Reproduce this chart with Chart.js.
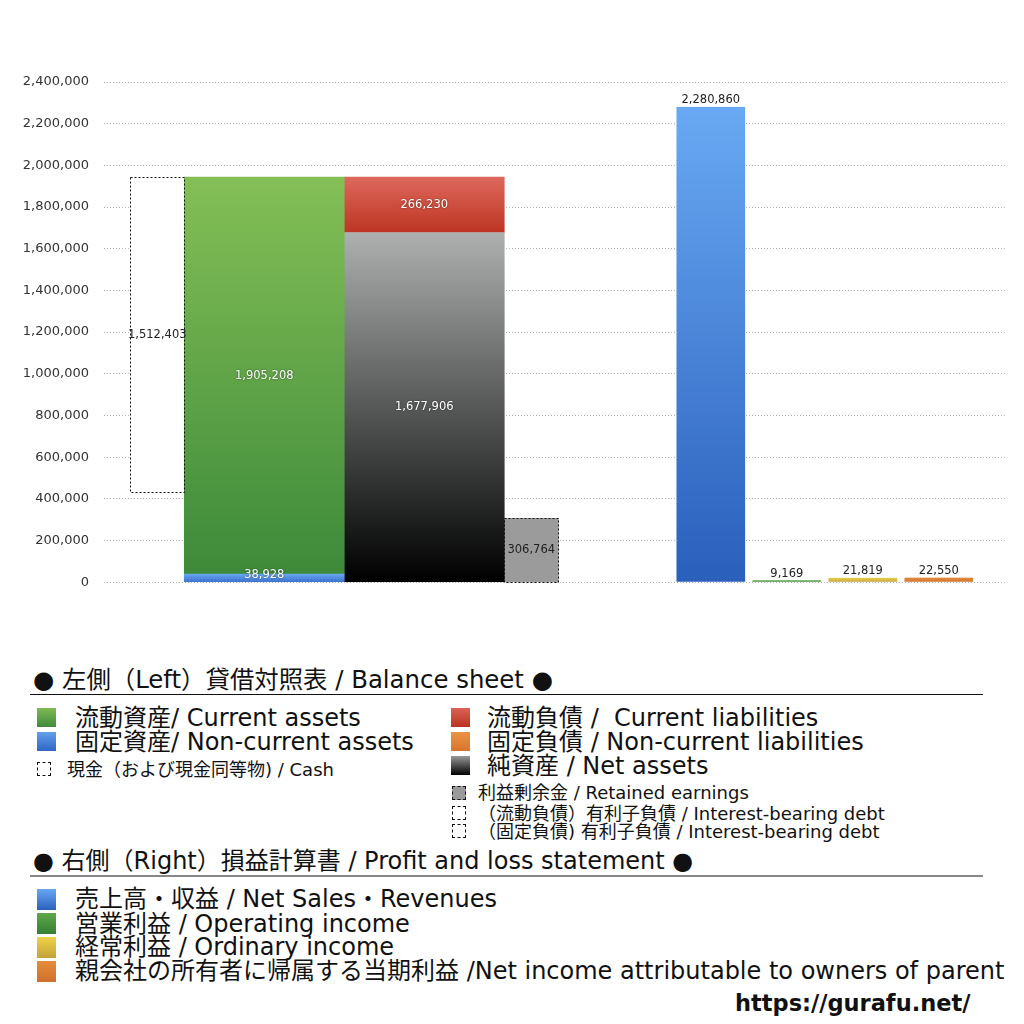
<!DOCTYPE html>
<html lang="ja">
<head>
<meta charset="utf-8">
<script src="https://cdn.jsdelivr.net/npm/chart.js"></script>
<style>
  body { margin: 0; width: 1024px; height: 1024px; background: #fff; position: relative; overflow: hidden;
         font-family: "DejaVu Sans", "Noto Sans CJK JP", sans-serif; color: #111; }
  #chartBox { position: absolute; left: 0; top: 0; width: 1024px; height: 605px; }
  .head { position: absolute; left: 33px; font-size: 24.4px; line-height: 24px; white-space: nowrap; }
  .rule { position: absolute; left: 30px; width: 953px; }
  .big  { position: absolute; font-size: 24px; line-height: 24px; white-space: nowrap; }
  .small{ position: absolute; font-size: 18px; line-height: 18px; white-space: nowrap; }
  .pl   { position: absolute; left: 75px; font-size: 24px; line-height: 24px; white-space: nowrap; }
  .sw   { position: absolute; width: 19px; height: 19px; }
  .dash { position: absolute; width: 12px; height: 12px; border: 1px dashed #111; }
  .url  { position: absolute; left: 735px; top: 991px; font-weight: bold; font-size: 22.5px; line-height: 24px; }
</style>
</head>
<body>
<div id="chartBox"><canvas id="bsChart"></canvas></div>

<div class="head" style="top:668px">● 左側（Left）貸借対照表 / Balance sheet ●</div>
<div class="rule" style="top:694px;height:1px;background:#111"></div>

<span class="sw" style="left:37px;top:708px;background:linear-gradient(#7fbb54,#3f8a3b)"></span>
<div class="big" style="left:75px;top:706px">流動資産/ Current assets</div>
<span class="sw" style="left:37px;top:732px;background:linear-gradient(#62a0ec,#2f66c4)"></span>
<div class="big" style="left:75px;top:730px">固定資産/ Non-current assets</div>
<span class="dash" style="left:37px;top:762px"></span>
<div class="small" style="left:67px;top:761px">現金（および現金同等物) / Cash</div>

<span class="sw" style="left:451px;top:708px;background:linear-gradient(#dc6257,#b93320)"></span>
<div class="big" style="left:487px;top:706px">流動負債 /&nbsp; Current liabilities</div>
<span class="sw" style="left:451px;top:732px;background:linear-gradient(#ec9344,#d8742c)"></span>
<div class="big" style="left:487px;top:730px">固定負債 / Non-current liabilities</div>
<span class="sw" style="left:451px;top:756px;background:linear-gradient(#9a9a9a,#000)"></span>
<div class="big" style="left:487px;top:754px">純資産 / Net assets</div>
<span class="dash" style="left:452px;top:786px;background:#999"></span>
<div class="small" style="left:478px;top:784px">利益剰余金 / Retained earnings</div>
<span class="dash" style="left:452px;top:806px"></span>
<div class="small" style="left:478px;top:805px">（流動負債）有利子負債 / Interest-bearing debt</div>
<span class="dash" style="left:452px;top:824px"></span>
<div class="small" style="left:478px;top:823px">（固定負債) 有利子負債 / Interest-bearing debt</div>

<div class="head" style="top:849px;font-size:24px">● 右側（Right）損益計算書 / Profit and loss statement ●</div>
<div class="rule" style="top:875px;height:2px;background:#888"></div>

<span class="sw" style="left:37px;top:889px;height:21px;background:linear-gradient(#68a8f2,#2b60bd)"></span>
<div class="pl" style="top:887px">売上高・収益 / Net Sales・Revenues</div>
<span class="sw" style="left:37px;top:913px;height:21px;background:linear-gradient(#5fa84b,#347f33)"></span>
<div class="pl" style="top:912px">営業利益 / Operating income</div>
<span class="sw" style="left:37px;top:937px;height:21px;background:linear-gradient(#f0d24c,#c3a338)"></span>
<div class="pl" style="top:935px">経常利益 / Ordinary income</div>
<span class="sw" style="left:37px;top:961px;height:21px;background:linear-gradient(#e58d3e,#cf702b)"></span>
<div class="pl" style="top:959px">親会社の所有者に帰属する当期利益 /Net income attributable to owners of parent</div>

<div class="url">https://gurafu.net/</div>

<script>
// x slots: the balance sheet block stands on slot 4, the P&L block on slot 12
const xSlots  = ['', '', '', '', '貸借対照表', '', '', '', '', '', '', '', '損益計算書', '', '', ''];
const BS_SLOT = 4;
const PL_SLOT = 12;

// balance sheet (left)
const assetNames  = ['固定資産', '流動資産'];
const assetValues = [38928, 1905208];
const claimNames  = ['純資産', '流動負債'];
const claimValues = [1677906, 266230];
const memoNames   = ['現金', '利益剰余金'];
const memoValues  = [1512403, 306764];

// profit and loss (right)
const plNames  = ['売上高・収益', '営業利益', '経常利益', '親会社の所有者に帰属する当期利益'];
const plValues = [2280860, 9169, 21819, 22550];
const plTop    = ['#69a9f3', '#5ea94a', '#ecd04c', '#e38c3d'];
const plBottom = ['#2a5fbc', '#3b8a36', '#c5a53a', '#d1742e'];

const yMax  = 2400000;
const yStep = 200000;

const atSlot = (slot, v) => xSlots.map((_, i) => (i === slot ? v : null));
const totalAssets = assetValues[0] + assetValues[1];
const fmt = v => v.toLocaleString('en-US');
const FONT = '"DejaVu Sans", "Noto Sans CJK JP", sans-serif';

// vertical gradient spanning one bar, from value lo to value hi
function grad(top, bottom, lo, hi, axis = 'y') {
  return ({chart}) => {
    if (!chart.chartArea) return bottom;
    const s  = chart.scales[axis];
    const y0 = s.getPixelForValue(hi), y1 = s.getPixelForValue(lo);
    if (!isFinite(y0) || !isFinite(y1) || y0 === y1) return bottom;
    const g = chart.ctx.createLinearGradient(0, y0, 0, y1);
    g.addColorStop(0, top);
    g.addColorStop(1, bottom);
    return g;
  };
}

// dashed frames for cash / retained earnings + value labels
const valueLabels = {
  id: 'valueLabels',
  afterDatasetsDraw(chart) {
    const {ctx} = chart;
    const sets = chart.data.datasets;
    ctx.save();
    sets.forEach((d, i) => {
      const meta = chart.getDatasetMeta(i);
      meta.data.forEach((el, j) => {
        const raw = d.data[j];
        if (raw == null) return;
        const p = el.getProps(['x', 'y', 'base', 'width'], true);
        let x0 = p.x - p.width / 2, x1 = p.x + p.width / 2;
        const top = Math.min(p.y, p.base), bot = Math.max(p.y, p.base);
        if (d.behind !== undefined) {
          const q = chart.getDatasetMeta(d.behind).data[j].getProps(['x', 'width'], true);
          if (p.x < q.x) x1 = q.x - q.width / 2; else x0 = q.x + q.width / 2;
          ctx.setLineDash([2, 2]);
          ctx.lineWidth = 1;
          ctx.strokeStyle = '#111';
          ctx.strokeRect(Math.round(x0) + 0.5, Math.round(top) + 0.5, Math.round(x1 - x0), Math.round(bot - top));
          ctx.setLineDash([]);
        }
        const v = Array.isArray(raw) ? raw[1] - raw[0] : raw;
        ctx.font = '11.5px ' + FONT;
        ctx.textAlign = 'center';
        if (d.labelPos === 'top') {
          ctx.textBaseline = 'bottom';
          ctx.fillStyle = '#222';
          ctx.shadowColor = 'transparent';
          ctx.fillText(fmt(v), (x0 + x1) / 2, top - 1);
        } else {
          ctx.textBaseline = 'middle';
          ctx.fillStyle = d.labelColor || '#fff';
          ctx.shadowColor = d.labelColor ? 'transparent' : 'rgba(0,0,0,0.55)';
          ctx.shadowBlur = 2;
          ctx.fillText(fmt(v), (x0 + x1) / 2, Math.min((top + bot) / 2, bot - 7));
        }
        ctx.shadowColor = 'transparent';
      });
    });
    ctx.restore();
  }
};

const plSets = plValues.map((v, i) => ({
  label: plNames[i],
  data: atSlot(PL_SLOT, v),
  stack: 'P' + i,
  barThickness: 76,
  borderWidth: {left: 4, right: 4, top: 0, bottom: 0},
  borderColor: 'rgba(0,0,0,0)',
  backgroundColor: grad(plTop[i], plBottom[i], 0, v),
  labelPos: 'top',
  skipNull: true,
}));

new Chart(document.getElementById('bsChart'), {
  type: 'bar',
  data: {
    labels: xSlots,
    datasets: [
      { label: assetNames[0], data: atSlot(BS_SLOT, assetValues[0]), stack: 'L', barThickness: 160, skipNull: true,
        backgroundColor: grad('#6aa6f0', '#3a72cf', 0, assetValues[0]) },
      { label: assetNames[1], data: atSlot(BS_SLOT, assetValues[1]), stack: 'L', barThickness: 160, skipNull: true,
        backgroundColor: grad('#84bf56', '#3d8a3a', assetValues[0], totalAssets) },
      { label: claimNames[0], data: atSlot(BS_SLOT, claimValues[0]), stack: 'R', barThickness: 160, skipNull: true,
        backgroundColor: grad('#aeafaf', '#000000', 0, claimValues[0]) },
      { label: claimNames[1], data: atSlot(BS_SLOT, claimValues[1]), stack: 'R', barThickness: 160, skipNull: true,
        backgroundColor: grad('#de685d', '#bd3522', claimValues[0], claimValues[0] + claimValues[1]) },
      // memo boxes sit half behind the main blocks; only the outer part shows
      { label: memoNames[0], data: atSlot(BS_SLOT, [totalAssets - memoValues[0], totalAssets]), stack: 'L', yAxisID: 'y2',
        barThickness: 214, skipNull: true, backgroundColor: '#ffffff', behind: 1, labelColor: '#222' },
      { label: memoNames[1], data: atSlot(BS_SLOT, memoValues[1]), stack: 'R', yAxisID: 'y2',
        barThickness: 214, skipNull: true, backgroundColor: '#9b9b9b', behind: 3, labelColor: '#222' },
      ...plSets,
    ],
  },
  options: {
    responsive: true,
    maintainAspectRatio: false,
    animation: false,
    layout: { padding: { top: 82, right: 19, bottom: 0, left: 0 } },
    plugins: { legend: { display: false }, tooltip: { enabled: false } },
    scales: {
      x: { type: 'category', display: false, stacked: true, offset: false },
      y: {
        stacked: true, min: 0, max: yMax,
        afterFit: axis => { axis.width = 104; },
        ticks: { stepSize: yStep, padding: 15, color: '#333', callback: v => fmt(v),
                 font: { family: FONT, size: 13 } },
        grid:  { color: '#b4b4b4', lineWidth: 1, drawTicks: false },
        border: { display: false, dash: [1, 2] },
      },
      y2: { display: false, min: 0, max: yMax },
    },
  },
  plugins: [valueLabels],
});
</script>
</body>
</html>
